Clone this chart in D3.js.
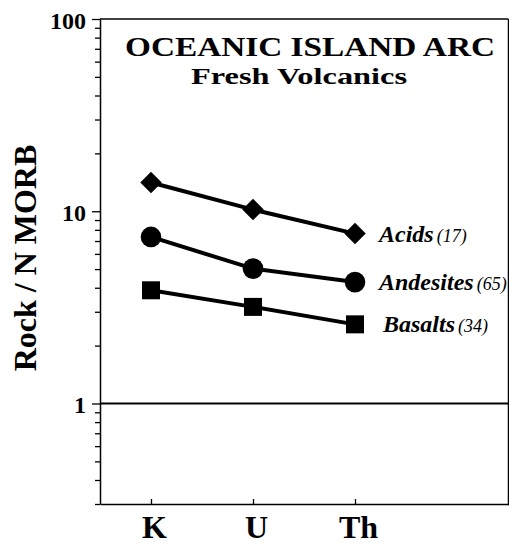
<!DOCTYPE html>
<html>
<head>
<meta charset="utf-8">
<script src="https://cdn.jsdelivr.net/npm/d3@7"></script>
<style>
body { margin:0; background:#fff; }
text { font-family: "Liberation Serif", "Times New Roman", "DejaVu Serif", serif; font-weight: bold; fill:#000; }
</style>
</head>
<body>
<div class="chart"></div>
<script>
// values (Rock / N-MORB)
const elements = ["K", "U", "Th"];
const seriesNames = ["Acids", "Andesites", "Basalts"];
const seriesCounts = ["(17)", "(65)", "(34)"];
const acids = [14.1, 10.2, 7.65];
const andesites = [7.35, 5.03, 4.28];
const basalts = [3.88, 3.18, 2.58];
const yTickLabels = [1, 10, 100];

const serif = '"Liberation Serif", "Times New Roman", "DejaVu Serif", serif';

const margin = {top:19, left:100, right:1, bottom:41};
const width = 509 - margin.left - margin.right,
height = 545 - margin.top - margin.bottom;

const svg = d3.select('.chart')
    .append('svg')
    .attr('width', width + margin.left + margin.right)
    .attr('height', height + margin.top + margin.bottom)
    .append("g")
    .attr("transform", "translate(" + margin.left + "," + margin.top + ")");

const xScale = d3.scaleLinear()
    .domain([-0.5, 3.5])
    .range([0, width]);

const yScale = d3.scaleLog()
    .domain([0.3, 100])
    .range([height, 0]);

const allTicks = yScale.ticks();
const isMajor = d => yTickLabels.some(v => Math.abs(v - d) < 1e-9);

// left axis, outward ticks, labels only on decades
const yAxis = d3.axisLeft(yScale)
    .tickValues(allTicks)
    .tickSize(5)
    .tickSizeOuter(0)
    .tickPadding(9)
    .tickFormat(d => isMajor(d) ? d3.format("d")(d) : "");

const gy = svg.append("g")
    .attr("class", "axis y-axis")
    .call(yAxis);
gy.selectAll(".tick line").filter(isMajor).attr("x2", -8);
gy.selectAll(".tick text").attr("font-size", 24).attr("dy", "0.38em");

// right axis, mirrored
const gy2 = svg.append("g")
    .attr("class", "axis y-axis-r")
    .attr("transform", "translate(" + width + ",0)")
    .call(d3.axisRight(yScale).tickValues(allTicks).tickSize(5).tickSizeOuter(0).tickFormat(""));
gy2.selectAll(".tick line").filter(isMajor).attr("x2", 7);

// bottom axis, ticks pointing in
const gx = svg.append("g")
    .attr("class", "axis x-axis")
    .attr("transform", "translate(0," + height + ")")
    .call(d3.axisBottom(xScale).tickValues([0, 1, 2]).tickSize(-5).tickSizeOuter(0)
        .tickPadding(11).tickFormat(i => elements[i]));
gx.selectAll(".tick text").attr("font-size", 32).attr("dx", 3);

// top border
svg.append("line")
    .attr("x1", 0).attr("x2", width)
    .attr("y1", 0).attr("y2", 0)
    .attr("stroke", "#000").attr("stroke-width", 1.5);

svg.selectAll(".axis").attr("font-family", serif);
svg.selectAll(".axis path.domain").attr("stroke-width", 1.5);
svg.selectAll(".axis .tick line").attr("stroke-width", 1.3);
svg.selectAll(".axis text").attr("fill", "#000").attr("font-family", serif);

// reference line at 1
svg.append("line")
    .attr("x1", 0).attr("x2", width)
    .attr("y1", yScale(1)).attr("y2", yScale(1))
    .attr("stroke", "#000").attr("stroke-width", 2);

const data = [acids, andesites, basalts];
const symbols = [
    d3.symbol().type(d3.symbolSquare).size(231),
    d3.symbol().type(d3.symbolCircle).size(336),
    d3.symbol().type(d3.symbolSquare).size(324)
];

const line = d3.line()
    .x((d, i) => xScale(i))
    .y(d => yScale(d));

data.forEach((vals, s) => {
    svg.append("path")
        .datum(vals)
        .attr("d", line)
        .attr("fill", "none")
        .attr("stroke", "#000")
        .attr("stroke-width", 4);

    svg.selectAll(".pt" + s)
        .data(vals)
        .enter()
        .append("path")
        .attr("class", "pt" + s)
        .attr("d", symbols[s])
        .attr("transform", (d, i) => "translate(" + xScale(i) + "," + yScale(d) + ")" + (s === 0 ? " rotate(45)" : ""))
        .attr("fill", "#000");

    const lab = svg.append("text")
        .attr("x", xScale(2) + (s === 2 ? 28 : 24))
        .attr("y", yScale(vals[2]) + 8)
        .attr("font-family", serif)
        .attr("font-style", "italic");
    lab.append("tspan")
        .attr("font-size", 24)
        .text(seriesNames[s]);
    lab.append("tspan")
        .attr("font-size", 18)
        .attr("font-weight", "normal")
        .attr("dx", 3)
        .text(seriesCounts[s]);
});

// titles
svg.append("text")
    .attr("x", 210).attr("y", 37)
    .attr("text-anchor", "middle")
    .attr("font-family", serif)
    .attr("font-size", 28)
    .attr("textLength", 370)
    .attr("lengthAdjust", "spacingAndGlyphs")
    .text("OCEANIC ISLAND ARC");

svg.append("text")
    .attr("x", 199).attr("y", 65)
    .attr("text-anchor", "middle")
    .attr("font-family", serif)
    .attr("font-size", 23)
    .attr("textLength", 216)
    .attr("lengthAdjust", "spacingAndGlyphs")
    .text("Fresh Volcanics");

// y label
svg.append("text")
    .attr("transform", "translate(" + (36 - margin.left) + "," + (258 - margin.top) + ") rotate(-90)")
    .attr("text-anchor", "middle")
    .attr("font-family", serif)
    .attr("font-size", 32)
    .text("Rock / N MORB");
</script>
</body>
</html>
